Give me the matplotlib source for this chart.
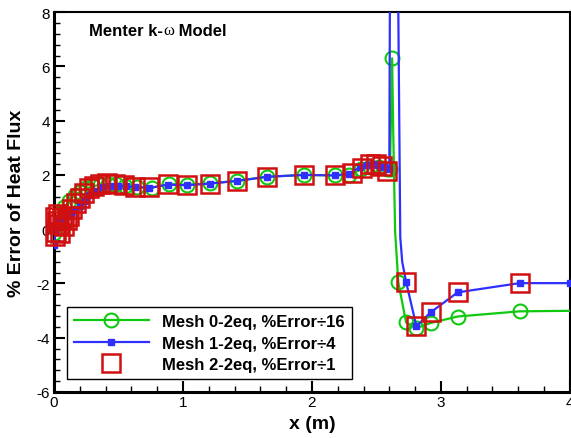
import numpy as np
import matplotlib
matplotlib.use("Agg")
import matplotlib.pyplot as plt
from matplotlib.ticker import MultipleLocator

plt.rcParams['font.family'] = ['Liberation Sans', 'DejaVu Sans']
plt.rcParams['axes.unicode_minus'] = False

# Mesh 0 (coarse), %Error divided by 16
x_mesh0 = [0.0, 0.02, 0.05, 0.08, 0.12, 0.16, 0.20, 0.25, 0.30, 0.36, 0.42, 0.48,
           0.55, 0.64, 0.76, 0.89, 1.03, 1.21, 1.42, 1.65, 1.94, 2.18, 2.29, 2.38,
           2.45, 2.52, 2.58, 2.605, 2.622, 2.63, 2.645, 2.67, 2.73, 2.81, 2.92,
           3.13, 3.61, 4.0]
y_mesh0 = [-0.15, 0.20, 0.55, 0.80, 1.05, 1.25, 1.38, 1.50, 1.58, 1.64, 1.66, 1.65,
           1.60, 1.56, 1.53, 1.66, 1.64, 1.69, 1.78, 1.93, 2.00, 1.98, 2.00, 2.20,
           2.30, 2.30, 2.20, 2.20, 6.30, 3.70, -0.10, -1.96, -3.44, -3.65, -3.46,
           -3.22, -3.03, -3.01]

# Mesh 1 (medium), %Error divided by 4
x_mesh1 = [0.0, 0.01, 0.02, 0.04, 0.06, 0.08, 0.10, 0.13, 0.16, 0.20, 0.24, 0.28,
           0.33, 0.38, 0.44, 0.50, 0.56, 0.63, 0.74, 0.88, 1.03, 1.21, 1.42, 1.65,
           1.94, 2.18, 2.29, 2.37, 2.43, 2.47, 2.51, 2.56, 2.60, 2.605, 2.635,
           2.668, 2.685, 2.70, 2.73, 2.81, 2.92, 3.13, 3.61, 4.0]
y_mesh1 = [-0.60, -0.10, 0.20, 0.35, 0.30, 0.40, 0.50, 0.60, 0.72, 0.85, 1.05, 1.25,
           1.40, 1.55, 1.60, 1.60, 1.58, 1.55, 1.52, 1.64, 1.62, 1.68, 1.78, 1.93,
           2.00, 1.98, 2.05, 2.28, 2.36, 2.42, 2.38, 2.30, 2.20, 9.0, 40.0,
           9.0, -0.30, -1.20, -1.94, -3.58, -3.07, -2.33, -1.99, -1.99]

# Mesh 2 (fine), %Error divided by 1
x_mesh2 = [0.005, 0.01, 0.015, 0.02, 0.03, 0.04, 0.05, 0.06, 0.08, 0.10, 0.12, 0.14,
           0.17, 0.20, 0.23, 0.27, 0.31, 0.36, 0.41, 0.47, 0.54, 0.63, 0.74, 0.88,
           1.03, 1.21, 1.42, 1.65, 1.94, 2.18, 2.31, 2.39, 2.45, 2.50, 2.54, 2.58,
           2.73, 2.81, 2.92, 3.13, 3.61]
y_mesh2 = [-0.25, 0.45, -0.10, 0.30, 0.55, 0.20, -0.15, 0.40, 0.10, 0.35, 0.50, 0.75,
           0.95, 1.15, 1.35, 1.50, 1.60, 1.68, 1.70, 1.68, 1.62, 1.56, 1.54, 1.66,
           1.62, 1.68, 1.78, 1.93, 2.00, 2.00, 2.06, 2.27, 2.39, 2.39, 2.33, 2.15,
           -1.94, -3.58, -3.07, -2.33, -1.99]

labels = ["Mesh 0-2eq, %Error\u00f716", "Mesh 1-2eq, %Error\u00f74",
          "Mesh 2-2eq, %Error\u00f71"]

green = '#10c810'
blue = '#2f2fff'
red = '#d01010'

fig = plt.figure(figsize=(5.71, 4.39), dpi=100)
ax = fig.add_axes([0.0946, 0.105, 0.9034, 0.865])

# no markers on the steep down-stroke points or the last point
x0 = np.array(x_mesh0)
mark0 = [i for i in range(len(x0) - 1) if not (2.625 < x0[i] < 2.66)]
x1 = np.array(x_mesh1)
mark1 = [i for i in range(len(x1)) if not (2.6 < x1[i] < 2.72)]

ax.plot(x_mesh0, y_mesh0, color=green, lw=1.6, marker='o', ms=10,
        mfc='none', mec=green, mew=1.5, markevery=mark0, label=labels[0], zorder=3)
ax.plot(x_mesh1, y_mesh1, color=blue, lw=1.6, marker='s', ms=5,
        mfc=blue, mec=blue, markevery=mark1, label=labels[1], zorder=4)
ax.plot(x_mesh2, y_mesh2, ls='none', marker='s', ms=12.5, mfc='none',
        mec=red, mew=1.8, label=labels[2], zorder=5, clip_on=False)

ax.set_xlim(0, 4)
ax.set_ylim(-6, 8)
ax.xaxis.set_major_locator(MultipleLocator(1))
ax.xaxis.set_minor_locator(MultipleLocator(0.2))
ax.yaxis.set_major_locator(MultipleLocator(2))
ax.yaxis.set_minor_locator(MultipleLocator(0.4))
ax.tick_params(which='both', direction='in', top=False, right=False, labelsize=11)
ax.tick_params(which='major', length=8, width=1.5)
ax.tick_params(which='minor', length=4.5, width=1.0)
ax.tick_params(axis='x', pad=2)
ax.tick_params(axis='y', pad=3)

for side in ['left', 'bottom']:
    ax.spines[side].set_linewidth(2.2)
for side in ['top', 'right']:
    ax.spines[side].set_linewidth(1.5)

ax.set_xlabel("x (m)", fontsize=14, fontweight='bold', va='center')
ax.set_ylabel("% Error of Heat Flux", fontsize=14, fontweight='bold', va='center')
ax.xaxis.set_label_coords(0.5, -0.082)
ax.yaxis.set_label_coords(-0.072, 0.5)

# title inside the axes, omega in a serif face
t1 = ax.text(0.068, 0.953, "Menter k-", fontsize=12, fontweight='bold',
             transform=ax.transAxes, va='center')
t2 = ax.annotate("\u03c9", xy=(1, 0), xycoords=t1, va='bottom', fontsize=12,
                 family='Liberation Serif')
t3 = ax.annotate(" Model", xy=(1, 0), xycoords=t2, va='bottom', fontsize=12,
                 fontweight='bold')

leg = ax.legend(loc='lower left', bbox_to_anchor=(0.025, 0.034), borderaxespad=0,
                fancybox=False, edgecolor='black', framealpha=1, numpoints=1,
                handlelength=4.5, handletextpad=0.8, labelspacing=0.38,
                borderpad=0.42, prop={'size': 12, 'weight': 'bold'})
leg.get_frame().set_linewidth(1.0)

fig.savefig("out.png", dpi=100)
